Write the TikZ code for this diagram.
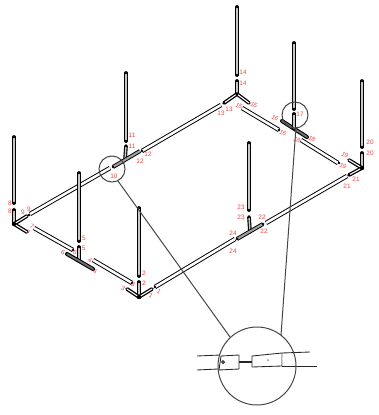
\documentclass[tikz,border=0pt]{standalone}
\usepackage{fontspec}
\setmainfont{Liberation Sans}
\definecolor{lblred}{RGB}{238,70,70}
\definecolor{polegrey}{RGB}{200,200,200}
\definecolor{linegrey}{RGB}{70,70,65}
\tikzset{
  pole/.style={line width=1.15pt,double=polegrey,double distance=1.4pt,line cap=round},
  longtube/.style={line width=0.95pt,double=white,double distance=2.5pt},
  armwhite/.style={line width=1.3pt,double=white,double distance=1.1pt,line cap=round},
  armgrey/.style={line width=0.95pt,double=polegrey!80!black,double distance=2.1pt},
  armdark/.style={line width=1.1pt,double=black!55,double distance=1.8pt,line cap=round},
  plug/.style={circle,fill=black,inner sep=0pt,minimum size=3pt},
  lbl/.style={text=lblred,font=\fontsize{6.4}{7}\selectfont,inner sep=0pt},
  lblr/.style={lbl,rotate=-30},
  ring/.style={draw=linegrey,line width=1pt},
  inset/.style={line width=0.85pt,draw=black!85}
}
\begin{document}
\begin{tikzpicture}[x=1pt,y=-1pt]
  \useasboundingbox (0,0) rectangle (379,415);
  % joints
  \coordinate (ca) at (14,224);
  \coordinate (tb) at (79,261);
  \coordinate (cc) at (139,297);
  \coordinate (td) at (250,232);
  \coordinate (ce) at (362,168);
  \coordinate (tf) at (294,128);
  \coordinate (cg) at (237,94);
  \coordinate (th) at (125,160);
  % long tubes
  \foreach \xa/\ya/\xb/\yb in {30/214/110/168,34/228/73/250,93/260/132/283,155/287/235/239,
    266/223/347/176,338/163/301/140,279/130/242/108,221/105/142/151}
    \draw[longtube] (\xa,\ya) -- (\xb,\yb);
  % uprights
  \foreach \xa/\ya/\yb in {14/137/203,79/173/241,139/208/276,126/73/141,249/143/210,
    237/7/75,294/43/109,362/81/147}
    \draw[pole] (\xa,\ya) -- (\xa,\yb);
  % corners
  \draw[pole] (ca) -- (14,210);
  \draw[armwhite] (ca) -- (27,216);
  \draw[armwhite] (ca) -- (27,232);
  \draw[pole] (cc) -- (139,282);
  \draw[armwhite] (cc) -- (127,289);
  \draw[armwhite] (cc) -- (152,289);
  \draw[pole] (cg) -- (237,81);
  \draw[armwhite] (cg) -- (224,103);
  \draw[armwhite] (cg) -- (249,103);
  \draw[pole] (ce) -- (362,153);
  \draw[armwhite] (ce) -- (349,160);
  \draw[armwhite] (ce) -- (349,175);
  \node[plug,minimum size=4.4pt] (pa) at (ca) {};
  \node[plug,minimum size=4.4pt] (pc) at (cc) {};
  \node[plug,minimum size=3.4pt] (pg) at (cg) {};
  \node[plug,minimum size=4.4pt] (pe) at (ce) {};
  % tees
  \draw[pole] (tb) -- (79,247);
  \draw[armdark] (67,254) -- (93,269);
  \draw[armdark] (282,121) -- (307,137);
  \draw[pole] (tf) -- (294,114);
  \draw[pole] (td) -- (249,217);
  \draw[armgrey] (237,239) -- (263,224);
  \draw[pole] (th) -- (126,146);
  \draw[armgrey] (113,167) -- (140,151);
  % plugs
  \foreach \x/\y [count=\i] in {29/215,73/250,132/283,155/287,237/239,263/224,113/167,142/151,
    14/210,79/247,139/282,126/146,249/217,237/81,294/114,362/153,14/203,79/241,139/276,126/141,
    249/210,237/75,294/109,362/147,14/137,79/173,139/208,126/73,249/143,237/7,294/43,362/81,
    224/103,349/175,339/163,279/130}
    \node[plug,minimum size=2.8pt] (plug\i) at (\x,\y) {};
  % labels
  \foreach \x/\y/\t [count=\i] in {10/203/8,10/211/8,23/212/9,29/209/9,84/238/5,84/248/5,
    144/273/2,144/283/2,114/176/10,132/135/11,132/146/11,148/154/12,140/161/12,
    229/109/13,221/113/13,243/72/14,243/83/14,300/114/17,370/142/20,370/153/20,
    356/179/21,347/186/21,262/217/22,264/231/22,241/207/23,241/217/23,233/233/24,233/251/24}
    \node[lbl] (lab\i) at (\x,\y) {\t};
  \foreach \x/\y/\t [count=\i] in {32/226/7,28/232/7,63/252/6,75/252/6,90/260/4,95/271/4,
    123/288/3,133/284/3,151/295/1,159/291/1,254/105/15,239/106/15,275/118/16,283/133/16,
    312/139/18,297/140/18,345/155/19,343/166/19}
    \node[lblr] (labr\i) at (\x,\y) {\t};
  % inset
  \draw[inset] (197,356) -- (220,355);
  \draw[inset] (197,370) -- (218,369);
  \draw[inset] (221,356) -- (239,355) -- (239,369) -- (219,370) -- cycle;
  \draw[line width=2.2pt,black!85] (239,362) -- (252,362);
  \draw[inset] (252,356) -- (282,353) -- (282,366) -- (252,367) -- cycle;
  \draw[inset,draw=black!15] (282,353) -- (283,366);
  \draw[inset] (282,353) -- (310,352);
  \draw[inset] (282,366) -- (317,366);
  \node[circle,draw=black,line width=0.7pt,fill=black!40,inner sep=0pt,minimum size=3pt] (dota) at (223,362) {};
  \node[circle,fill=black!45,inner sep=0pt,minimum size=2pt] (dotb) at (268,360) {};
  % zoom rings
  \node[ring,circle,inner sep=0pt,minimum size=26pt] (ringa) at (112,169) {};
  \node[ring,circle,inner sep=0pt,minimum size=26pt] (ringb) at (295,115) {};
  \node[ring,circle,inner sep=0pt,minimum size=78pt] (ringc) at (257,366) {};
  \draw[ring] (118,181) -- (230,337);
  \draw[ring] (296,127) -- (281,335);
\end{tikzpicture}
\end{document}
